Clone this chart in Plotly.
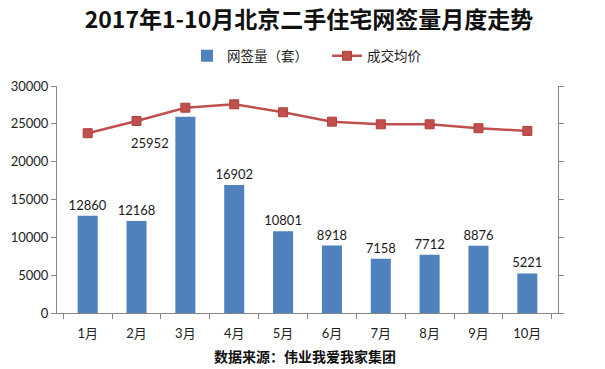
import plotly.graph_objects as go

months = ["1月", "2月", "3月", "4月", "5月", "6月", "7月", "8月", "9月", "10月"]
signed_units = [12860, 12168, 25952, 16902, 10801, 8918, 7158, 7712, 8876, 5221]
avg_price = [23760, 25380, 27130, 27580, 26530, 25290, 24940, 24940, 24420, 24060]
y_ticks = [0, 5000, 10000, 15000, 20000, 25000, 30000]

W, H = 605, 369
L, R, T, B = 57, 47, 86, 56
pw, ph = W - L - R, H - T - B

FONT = "Lato, 'Noto Sans CJK SC', sans-serif"
CJK = "'Noto Sans CJK SC', sans-serif"
AX = "#868686"

positions = ["none" if m == "3月" else "outside" for m in months]

fig = go.Figure()
fig.add_trace(go.Bar(
    x=months, y=signed_units, name="网签量（套）",
    marker=dict(color="#4F81BD", line=dict(width=0)),
    width=0.41,
    text=[str(v) for v in signed_units], textposition=positions,
    textfont=dict(family=FONT, size=13, color="#1a1a1a"),
    constraintext="none",
    cliponaxis=False,
))
fig.add_trace(go.Scatter(
    x=months, y=avg_price, name="成交均价", yaxis="y2",
    mode="lines+markers",
    line=dict(color="#C0504D", width=2.5),
    marker=dict(symbol="square", size=9, color="#C0504D", line=dict(color="#B0403D", width=1)),
))

# label for the March bar placed to the left as in reference
i3 = months.index("3月")
fig.add_annotation(x=months[i3], y=signed_units[i3], text=str(signed_units[i3]),
                   showarrow=False, xshift=-35, yshift=-26,
                   font=dict(family=FONT, size=13, color="#1a1a1a"))

fig.add_annotation(xref="paper", yref="paper",
                   x=(305 - L) / pw, y=(H - B - 356) / ph,
                   text="<b>数据来源：伟业我爱我家集团</b>", showarrow=False,
                   xanchor="center", yanchor="middle",
                   font=dict(family=CJK, size=14, color="#111111"))

fig.update_layout(
    width=W, height=H,
    margin=dict(l=L, r=R, t=T, b=B),
    paper_bgcolor="white", plot_bgcolor="white",
    title=dict(text="<b>2017年1-10月北京二手住宅网签量月度走势</b>",
               x=309 / W, xanchor="center", xref="container",
               y=1 - 19.5 / H, yanchor="middle", yref="container",
               font=dict(family=CJK, size=23, color="#111111")),
    legend=dict(orientation="h", x=(187 - L) / pw, xanchor="left",
                y=(H - B - 56) / ph, yanchor="middle",
                font=dict(family=CJK, size=13.5, color="#222222"),
                entrywidth=95,
                bgcolor="rgba(0,0,0,0)", traceorder="normal"),
    showlegend=True,
    xaxis=dict(type="category", showline=True, linecolor=AX, linewidth=1,
               ticks="outside", tickson="boundaries", ticklen=5, tickcolor=AX,
               ticklabelstandoff=8,
               showgrid=False, tickfont=dict(family=FONT, size=13, color="#222222")),
    yaxis=dict(range=[0, 30000], tickvals=y_ticks, tickformat="d", showline=True,
               linecolor=AX, linewidth=1,
               ticks="outside", ticklen=5, tickcolor=AX, showgrid=False, zeroline=False,
               tickfont=dict(family=FONT, size=13, color="#222222")),
    yaxis2=dict(range=[0, 30000], tickvals=y_ticks, overlaying="y", side="right",
                showline=True, linecolor=AX, linewidth=1, ticks="outside", ticklen=5,
                tickcolor=AX, showticklabels=False, showgrid=False, zeroline=False),
)

fig.write_html("out.html", config={"displayModeBar": False},
               post_script="document.body.style.margin='0';")
